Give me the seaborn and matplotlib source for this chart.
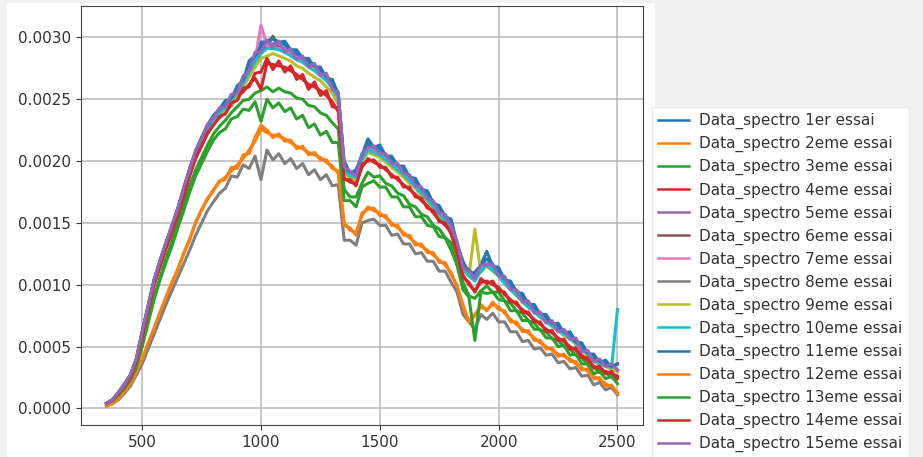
import numpy as np
import pandas as pd
import matplotlib
matplotlib.use("Agg")
import matplotlib.pyplot as plt
from matplotlib.patches import Rectangle
import seaborn as sns

# --- Data (reflectance in units of 1e-5) ---
wavelengths = list(range(350, 2501, 25))

essai_labels = ["1er"] + [f"{i}eme" for i in range(2, 16)]

s01 = [4, 7, 13, 20, 27, 40, 62, 83, 104, 120,
       134, 148, 162, 178, 194, 208, 219, 229, 237, 242,
       249, 250, 261, 265, 281, 285, 296, 297, 299, 296,
       297, 290, 290, 283, 283, 276, 276, 267, 266, 254,
       200, 190, 193, 205, 218, 211, 213, 204, 204, 196,
       196, 187, 186, 177, 176, 166, 164, 155, 153, 133,
       119, 109, 110, 116, 127, 115, 114, 104, 103, 94,
       93, 84, 84, 76, 76, 68, 69, 61, 62, 54,
       53, 44, 44, 37, 39, 33, 36]
s02 = [2, 4, 8, 13, 20, 29, 39, 52, 64, 77,
       89, 101, 113, 125, 137, 150, 161, 169, 177, 183,
       187, 192, 197, 202, 209, 216, 226, 223, 221, 220,
       218, 215, 212, 210, 207, 205, 203, 199, 196, 190,
       150, 144, 142, 156, 163, 160, 158, 154, 150, 146,
       142, 138, 134, 131, 128, 124, 120, 116, 110, 98,
       84, 70, 76, 82, 80, 84, 82, 77, 72, 68,
       64, 61, 57, 53, 50, 47, 44, 42, 40, 36,
       33, 30, 26, 23, 20, 17, 13]
s03 = [4, 6, 11, 17, 24, 34, 52, 71, 90, 106,
       121, 135, 150, 165, 180, 193, 203, 213, 222, 228,
       233, 239, 244, 249, 250, 255, 257, 260, 256, 259,
       256, 255, 251, 250, 245, 244, 239, 237, 231, 226,
       177, 171, 171, 182, 191, 187, 188, 182, 180, 174,
       172, 165, 163, 157, 155, 148, 145, 138, 134, 116,
       102, 91, 89, 95, 99, 94, 94, 87, 85, 79,
       77, 71, 69, 63, 62, 56, 55, 50, 48, 43,
       41, 35, 33, 29, 29, 25, 25]
s04 = [4, 7, 12, 18, 26, 38, 59, 80, 100, 115,
       130, 143, 157, 173, 189, 202, 213, 222, 230, 235,
       240, 245, 252, 256, 262, 267, 258, 279, 278, 277,
       276, 273, 270, 266, 262, 260, 257, 253, 248, 240,
       186, 183, 182, 195, 202, 199, 197, 193, 189, 185,
       181, 177, 173, 168, 164, 158, 153, 148, 143, 125,
       108, 100, 95, 102, 103, 100, 98, 92, 88, 84,
       80, 76, 72, 68, 64, 61, 57, 54, 50, 47,
       43, 39, 34, 32, 30, 28, 26]
s05 = [4, 7, 12, 19, 26, 39, 61, 82, 103, 118,
       133, 146, 160, 177, 193, 207, 218, 228, 236, 241,
       246, 250, 258, 265, 276, 282, 291, 293, 295, 292,
       291, 287, 285, 281, 279, 275, 272, 267, 262, 253,
       195, 191, 189, 205, 211, 210, 207, 204, 199, 196,
       191, 187, 181, 177, 171, 166, 159, 155, 148, 134,
       115, 110, 105, 115, 117, 115, 108, 105, 98, 95,
       88, 86, 79, 77, 71, 70, 64, 63, 58, 55,
       48, 46, 39, 39, 35, 35, 31]
s06 = [4, 7, 12, 18, 26, 39, 60, 81, 102, 117,
       132, 145, 160, 176, 192, 206, 217, 227, 234, 240,
       244, 249, 256, 264, 273, 281, 289, 292, 301, 291,
       289, 286, 283, 280, 277, 274, 270, 266, 260, 252,
       194, 189, 188, 202, 210, 208, 206, 202, 198, 194,
       190, 185, 180, 175, 170, 164, 158, 153, 147, 131,
       114, 108, 104, 112, 117, 112, 108, 102, 97, 92,
       87, 83, 78, 74, 70, 67, 63, 60, 57, 52,
       47, 43, 38, 36, 34, 32, 30]
s07 = [4, 7, 12, 18, 26, 39, 61, 82, 103, 118,
       133, 146, 160, 177, 192, 206, 217, 228, 235, 241,
       245, 250, 256, 265, 274, 282, 310, 293, 292, 291,
       290, 286, 284, 280, 278, 274, 271, 266, 261, 252,
       194, 189, 188, 202, 211, 208, 207, 202, 198, 194,
       190, 185, 180, 175, 171, 164, 159, 153, 148, 131,
       114, 108, 104, 112, 117, 113, 108, 102, 97, 92,
       88, 83, 79, 75, 71, 67, 63, 60, 57, 52,
       48, 43, 39, 36, 34, 32, 31]
s08 = [2, 4, 7, 12, 18, 27, 36, 48, 60, 72,
       84, 95, 106, 117, 128, 140, 150, 160, 167, 174,
       178, 188, 187, 197, 194, 204, 185, 209, 201, 206,
       198, 202, 194, 198, 189, 193, 185, 189, 180, 181,
       136, 136, 132, 150, 152, 153, 148, 148, 140, 141,
       133, 133, 125, 126, 119, 119, 111, 111, 102, 94,
       76, 70, 64, 76, 72, 77, 70, 70, 62, 62,
       54, 55, 48, 49, 43, 44, 37, 38, 32, 33,
       26, 27, 19, 21, 15, 17, 11]
s09 = [4, 7, 12, 18, 26, 38, 59, 80, 101, 116,
       131, 144, 158, 174, 190, 204, 214, 224, 232, 237,
       241, 246, 252, 260, 268, 276, 283, 285, 287, 285,
       283, 281, 277, 275, 271, 268, 265, 260, 255, 246,
       191, 186, 185, 199, 207, 205, 203, 199, 195, 191,
       187, 182, 178, 172, 168, 162, 156, 151, 145, 128,
       112, 107, 145, 110, 115, 111, 107, 101, 96, 91,
       86, 82, 78, 74, 70, 66, 63, 59, 56, 52,
       47, 43, 38, 36, 34, 32, 30]
s10 = [4, 7, 12, 19, 26, 39, 61, 82, 103, 118,
       133, 146, 160, 176, 192, 206, 216, 226, 234, 239,
       243, 249, 255, 263, 272, 280, 287, 291, 291, 290,
       288, 285, 282, 280, 276, 273, 269, 265, 259, 251,
       193, 188, 187, 201, 209, 207, 205, 201, 197, 193,
       189, 184, 179, 174, 169, 163, 157, 152, 146, 130,
       113, 107, 103, 111, 116, 112, 107, 101, 96, 92,
       87, 82, 78, 74, 70, 67, 63, 60, 57, 53,
       48, 44, 40, 36, 35, 33, 80]
s11 = [4, 7, 13, 19, 27, 40, 62, 83, 104, 119,
       134, 147, 162, 178, 194, 208, 219, 229, 236, 242,
       246, 251, 258, 266, 277, 285, 293, 297, 299, 296,
       294, 290, 287, 284, 280, 277, 274, 268, 263, 255,
       196, 191, 190, 205, 214, 211, 210, 205, 201, 197,
       192, 188, 182, 178, 173, 167, 161, 156, 150, 133,
       116, 112, 107, 116, 121, 116, 111, 105, 100, 95,
       90, 85, 81, 77, 73, 69, 66, 62, 59, 54,
       50, 45, 41, 38, 36, 34, 36]
s12 = [2, 4, 8, 13, 20, 29, 40, 53, 65, 78,
       90, 102, 112, 126, 136, 151, 160, 170, 176, 184,
       185, 195, 194, 205, 206, 219, 229, 225, 219, 222,
       216, 217, 210, 212, 205, 207, 201, 201, 194, 192,
       148, 146, 140, 158, 161, 162, 156, 156, 148, 148,
       140, 140, 132, 133, 126, 126, 118, 118, 108, 100,
       82, 70, 75, 84, 79, 86, 80, 79, 70, 70,
       62, 63, 55, 55, 48, 49, 42, 44, 38, 38,
       31, 32, 24, 25, 18, 19, 12]
s13 = [4, 6, 11, 16, 23, 33, 50, 69, 88, 104,
       118, 131, 146, 160, 175, 188, 198, 208, 217, 223,
       226, 234, 236, 242, 241, 248, 232, 250, 243, 247,
       240, 243, 234, 237, 227, 230, 221, 224, 215, 215,
       168, 168, 163, 179, 182, 184, 179, 179, 171, 171,
       163, 163, 155, 155, 148, 147, 139, 138, 128, 116,
       96, 90, 55, 94, 93, 94, 88, 87, 79, 79,
       71, 71, 64, 64, 57, 57, 50, 51, 43, 44,
       36, 36, 28, 30, 24, 26, 20]
s14 = [4, 7, 12, 18, 25, 38, 58, 79, 100, 115,
       129, 143, 156, 172, 188, 203, 212, 223, 229, 236,
       238, 247, 249, 259, 260, 271, 272, 283, 274, 281,
       272, 277, 266, 270, 258, 264, 253, 257, 244, 243,
       185, 185, 180, 197, 200, 201, 195, 195, 187, 187,
       179, 179, 171, 170, 162, 160, 151, 150, 141, 127,
       106, 102, 94, 105, 101, 103, 95, 94, 86, 86,
       78, 78, 70, 70, 62, 63, 55, 56, 48, 49,
       41, 41, 33, 34, 28, 30, 24]
s15 = [4, 7, 13, 19, 27, 40, 62, 83, 104, 119,
       134, 148, 161, 179, 193, 209, 218, 230, 235, 243,
       244, 254, 255, 269, 273, 288, 288, 298, 292, 297,
       288, 291, 282, 285, 276, 279, 269, 271, 258, 256,
       195, 192, 188, 206, 211, 212, 206, 206, 198, 198,
       190, 189, 180, 179, 170, 168, 158, 157, 147, 135,
       114, 111, 105, 116, 116, 117, 107, 107, 96, 96,
       86, 87, 77, 78, 69, 71, 62, 64, 56, 57,
       46, 47, 38, 40, 34, 36, 31]

series = [s01, s02, s03, s04, s05, s06, s07, s08, s09, s10,
          s11, s12, s13, s14, s15]

# --- Long table for seaborn ---
rows = []
for lab, vals in zip(essai_labels, series):
    for wl, v in zip(wavelengths, vals):
        rows.append({"wl": wl, "val": v * 1e-5,
                     "essai": f"Data_spectro {lab} essai"})
df = pd.DataFrame(rows)

# --- Figure ---
W, H = 923, 457
fig = plt.figure(figsize=(W / 100, H / 100), dpi=100, facecolor="#f1f1f1")
fig.add_artist(Rectangle((7 / W, 0), (655 - 7) / W, 1 - 3 / H,
                         transform=fig.transFigure, facecolor="white",
                         edgecolor="none", zorder=-1))
ax = fig.add_axes([81 / W, 1 - 425 / H, (643 - 81) / W, (425 - 6) / H])

palette = sns.color_palette("tab10", 10)
palette = [palette[i % 10] for i in range(15)]
sns.lineplot(data=df, x="wl", y="val", hue="essai", palette=palette,
             errorbar=None, linewidth=2.2, ax=ax)

ax.set_xticks([500, 1000, 1500, 2000, 2500])
ax.set_yticks([0.0, 0.0005, 0.0010, 0.0015, 0.0020, 0.0025, 0.0030])
ax.set_yticklabels([f"{t:.4f}" for t in ax.get_yticks()])
ax.set_xlabel("")
ax.set_ylabel("")
ax.grid(True, color="#b8b8b8", linewidth=1.1)
ax.tick_params(labelsize=11, colors="#333333", labelcolor="#333333")
for sp in ax.spines.values():
    sp.set_color("#444444")

sns.move_legend(ax, "upper left", bbox_to_anchor=(652 / W, 1 - 107 / H),
                bbox_transform=fig.transFigure, title=None, fontsize=11,
                frameon=True, framealpha=1, facecolor="white",
                edgecolor="#ececec", fancybox=False, borderaxespad=0,
                labelspacing=0.45, handletextpad=0.7)
leg = ax.get_legend()
for t in leg.get_texts():
    t.set_color("#333333")
for h in leg.get_lines():
    h.set_linewidth(1.8)

fig.savefig("out.png", dpi=100, facecolor=fig.get_facecolor())
